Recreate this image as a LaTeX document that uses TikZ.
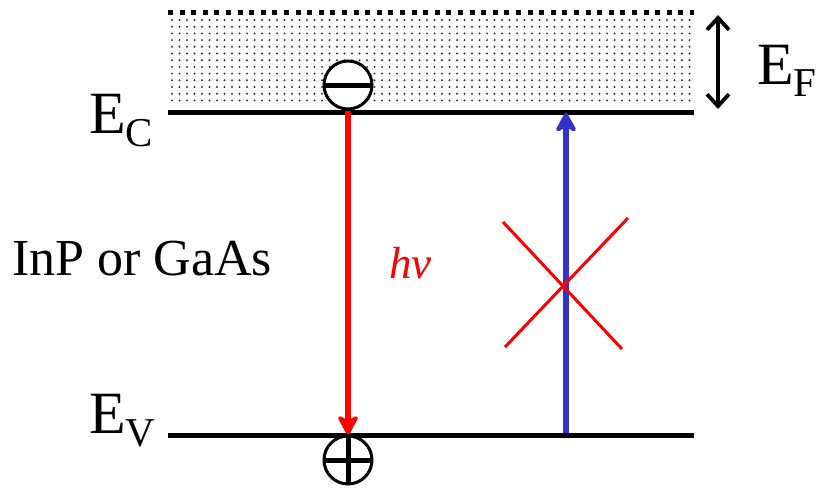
\documentclass[tikz,border=0pt]{standalone}
\usepackage{fontspec}
\setmainfont{Liberation Serif}
\usetikzlibrary{arrows.meta}
\definecolor{transblue}{RGB}{51,51,204}
\definecolor{dotgray}{RGB}{50,50,50}
\newcommand{\bigE}[2]{{\fontsize{60}{60}\selectfont #1}\raisebox{-13pt}{\fontsize{41}{41}\selectfont #2}}

\begin{document}
\begin{tikzpicture}[
        x=1pt,
        y=-1pt,
        level/.style={line width=5pt},
        carrier/.style={
            draw,
            circle,
            fill=white,
            line width=3pt,
            minimum size=48pt,
            inner sep=0pt
        },
        photon/.style={
            line width=6pt,
            -{Stealth[length=24pt,width=26pt,inset=8pt,round]}
        },
        label/.style={inner sep=0pt}
    ]
        \useasboundingbox (0,0) rectangle (821,487);

        % conduction band filled up to E_F
        \foreach \x in {172,179.5,...,691}
            \foreach \y in {20,26.7,...,106}
                \fill[dotgray] (\x,\y) circle (1.1);
        \draw[line width=5pt, dash pattern=on 5pt off 6.6pt] (168,13) -- (694,13);

        % band edges
        \coordinate (ecL) at (168,112);
        \coordinate (ecR) at (694,112);
        \coordinate (evL) at (168,435);
        \coordinate (evR) at (694,435);
        \draw[level] (ecL) -- (ecR);
        \draw[level] (evL) -- (evR);

        % electron and hole
        \node[carrier, path picture={
            \draw[line width=5pt] (path picture bounding box.west) -- (path picture bounding box.east);
        }] (minus) at (348,85) {};
        \node[carrier, path picture={
            \draw[line width=5pt] (path picture bounding box.west) -- (path picture bounding box.east);
            \draw[line width=5pt] (path picture bounding box.north) -- (path picture bounding box.south);
        }] (plus) at (348,460) {};

        % radiative recombination
        \draw[photon, red] (minus.south) -- (plus.north);
        \node[label, red, anchor=base west] (hv) at (389,278)
            {\fontsize{45}{45}\selectfont\itshape hv};

        % blocked absorption
        \coordinate (absS) at (566,433);
        \coordinate (absN) at (566,113);
        \draw[photon, transblue] (absS) -- (absN);
        \coordinate (crossA) at (503,222);
        \coordinate (crossB) at (622,349);
        \coordinate (crossC) at (628,218);
        \coordinate (crossD) at (505,347);
        \draw[red, line width=3pt] (crossA) -- (crossB);
        \draw[red, line width=3pt] (crossC) -- (crossD);

        % Fermi level shift
        \coordinate (efN) at (718,15);
        \coordinate (efS) at (718,109);
        \draw[line width=3.8pt, {Straight Barb[length=12pt,width=22pt]}-{Straight Barb[length=12pt,width=22pt]}] (efN) -- (efS);

        % labels
        \node[label, anchor=base west] (ec) at (89,133) {\bigE{E}{C}};
        \node[label, anchor=base west] (ev) at (89,433) {\bigE{E}{V}};
        \node[label, anchor=base west] (ef) at (757,84) {\bigE{E}{F}};
        \node[label, anchor=base west] (material) at (12,275)
            {\fontsize{52}{52}\selectfont InP or GaAs};

    \end{tikzpicture}
\end{document}
